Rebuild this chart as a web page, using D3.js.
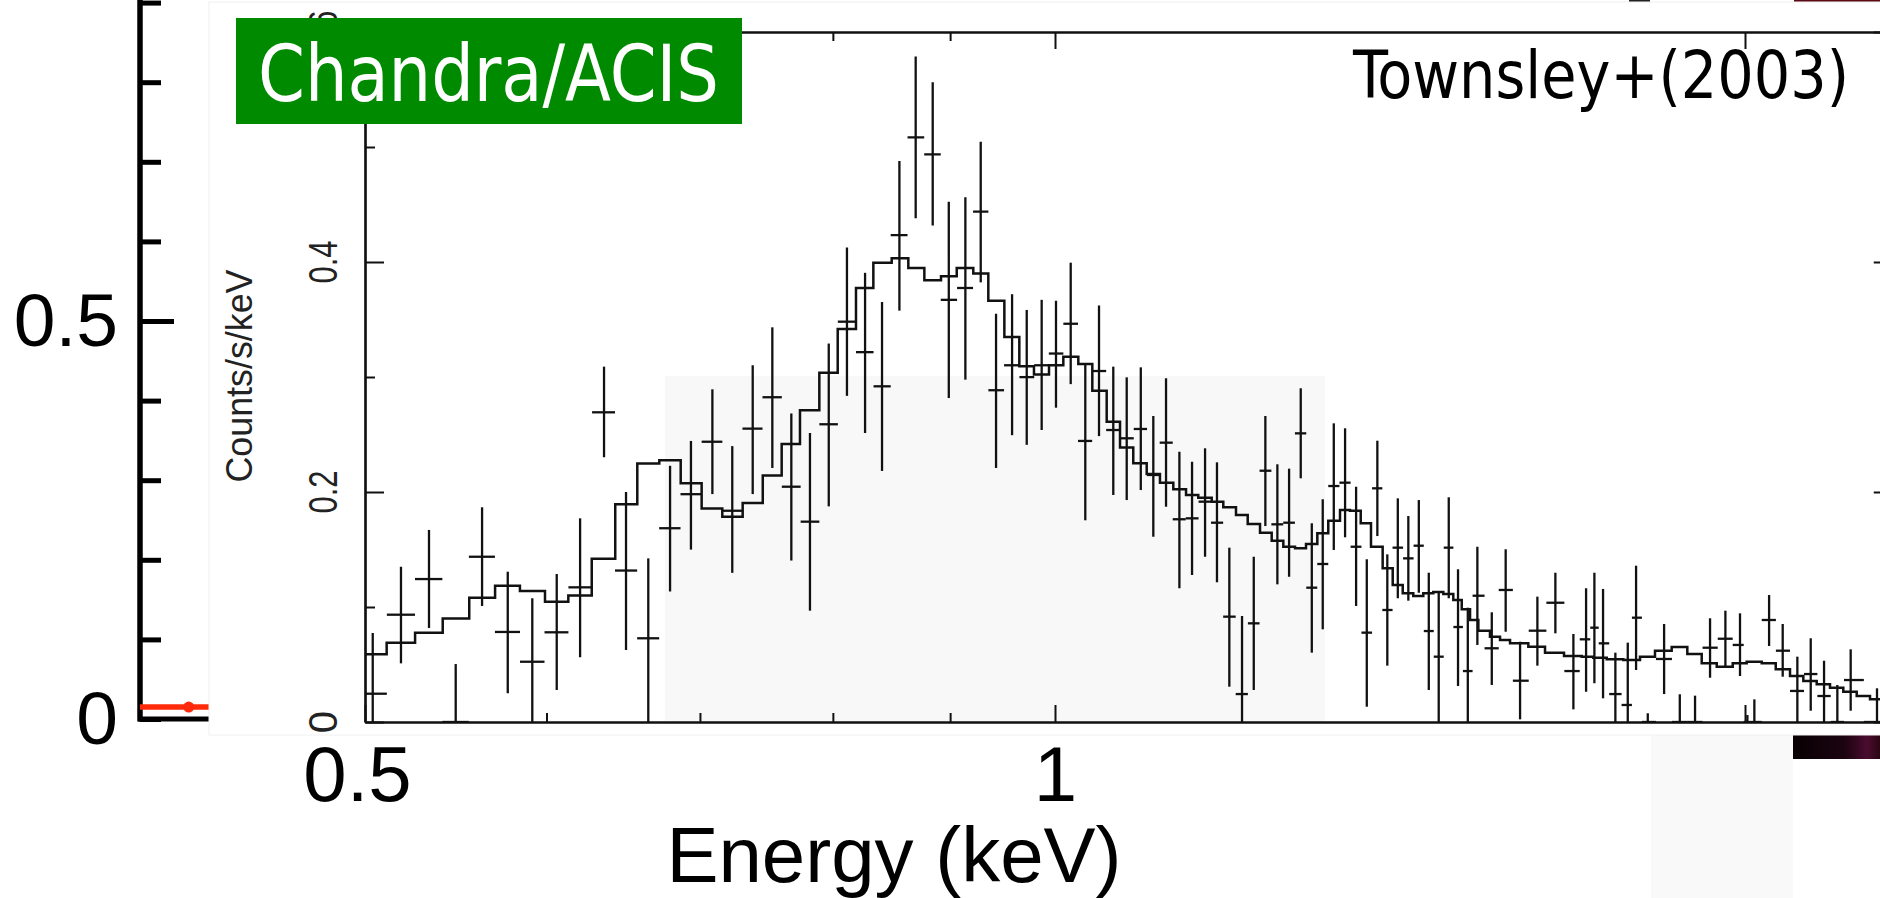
<!DOCTYPE html>
<html>
<head>
<meta charset="utf-8">
<script src="https://cdn.jsdelivr.net/npm/d3@7"></script>
<style>
  body { margin: 0; background: #fff; overflow: hidden; }
  .thin text { font-family: "Liberation Sans Narrow", "Liberation Sans", Arial, sans-serif; }
</style>
</head>
<body>
<div id="chart"></div>
<script>

// ---- data (Chandra/ACIS, Townsley+ 2003) ----
// bin centre energy (keV), rate and error bar ends (counts/s/keV)
var energy = [0.5039,0.5184,0.5332,0.5477,0.5624,0.5771,0.5915,0.6062,0.6206,0.6357,
	0.6499,0.6646,0.6793,0.6937,0.7088,0.7231,0.7381,0.7528,0.7673,0.7818,
	0.7967,0.8114,0.8263,0.8405,0.8553,0.8694,0.8844,0.8988,0.9139,0.9281,
	0.9425,0.9578,0.972,0.9867,1.001,1.0159,1.0309,1.0452,1.0603,1.0747,
	1.09,1.1038,1.118,1.1331,1.1476,1.1627,1.1767,1.1914,1.2067,1.221,
	1.2353,1.2503,1.2651,1.28,1.2943,1.3086,1.3232,1.3383,1.3532,1.3678,
	1.3824,1.3963,1.4111,1.4261,1.4412,1.4557,1.4703,1.4852,1.4991,1.5139,
	1.5285,1.5508,1.5726,1.5955,1.6235,1.6531,1.6833,1.7049,1.7192,1.7342,
	1.7558,1.7778,1.7927,1.8139,1.8439,1.8732,1.9021,1.931,1.961,1.99,
	2.0048,2.0189,2.049,2.0772,2.108,2.1365,2.1653,2.1944,2.224,2.2836,
	2.305];

var rate = [0.0246,0.0933,0.1243,0,0.1437,0.0783,0.0524,0.078,0.1171,0.2693,
	0.1317,0.0728,0.1685,0.1981,0.2437,0.1837,0.2551,0.2824,0.2046,0.1742,
	0.2589,0.3481,0.3216,0.2919,0.4233,0.5083,0.4936,0.3671,0.3774,0.4438,
	0.2885,0.3102,0.2999,0.3102,0.3204,0.3463,0.2444,0.3052,0.2539,0.2467,
	0.2548,0.2148,0.2429,0.1763,0.1771,0.1916,0.1733,0.0916,0.0243,0.0858,
	0.2185,0.1719,0.1733,0.251,0.1168,0.1374,0.2052,0.2081,0.1524,0.0777,
	0.2032,0.0974,0.1516,0.1423,0.1533,0.0791,0.0568,0.1516,0.0826,0.0443,
	0.1098,0.0641,0.1148,0.0359,0.0794,0.1037,0.0443,0.0719,0.082,0.0684,
	0.0243,0.0148,0.0907,0,0.0548,0,0,0.0646,0.0724,0.067,
	0,0,0.0887,0.062,0.027,0.0417,0.0226,0,0.0365,0,
	0.0997];

var rateHigh = [0.0774,0.135,0.167,0.0504,0.1867,0.1307,0.1076,0.1287,0.1771,0.309,
	0.2,0.1423,0.2228,0.2444,0.2893,0.2399,0.3102,0.3432,0.2683,0.2513,
	0.3291,0.4127,0.3906,0.3652,0.4878,0.5786,0.5562,0.4525,0.4563,0.5046,
	0.355,0.372,0.3583,0.3671,0.3663,0.3994,0.3121,0.3622,0.309,0.2997,
	0.3084,0.2661,0.2989,0.235,0.2263,0.238,0.2258,0.1516,0.0922,0.1437,
	0.2661,0.2241,0.2203,0.2902,0.1728,0.1937,0.2597,0.2554,0.2046,0.1415,
	0.2446,0.1458,0.1945,0.1791,0.193,0.1298,0.1124,0.1954,0.1328,0.0994,
	0.1524,0.0954,0.1502,0.0698,0.109,0.1298,0.0765,0.1163,0.1298,0.1157,
	0.0603,0.069,0.1359,0.0076,0.0852,0.0241,0.0229,0.0902,0.0968,0.0945,
	0.0061,0.0197,0.1104,0.0852,0.0568,0.0728,0.0533,0.0322,0.0632,0.0293,
	0.13];

var rateLow = [-0.02,0.051,0.0817,-0.02,0.1009,0.025,-0.02,0.0278,0.0563,0.2302,
	0.0626,-0.02,0.1135,0.1499,0.1982,0.1297,0.1982,0.2209,0.1404,0.0968,
	0.1875,0.2836,0.2513,0.2183,0.3577,0.4381,0.4317,0.2817,0.2977,0.3823,
	0.2209,0.2494,0.241,0.2539,0.2733,0.2938,0.1754,0.2486,0.1974,0.193,
	0.2017,0.1611,0.1872,0.1163,0.1278,0.1437,0.1215,0.0307,-0.02,0.0278,
	0.1704,0.1197,0.1263,0.2119,0.0603,0.0806,0.1496,0.1606,0.1009,0.0133,
	0.1617,0.049,0.1076,0.1055,0.1124,0.0278,-0.02,0.1076,0.0313,-0.02,
	0.067,0.0322,0.0785,0.0023,0.049,0.0771,0.011,0.0263,0.0337,0.0206,
	-0.02,-0.02,0.0452,-0.02,0.0243,-0.02,-0.02,0.0385,0.0481,0.04,
	-0.02,-0.02,0.0661,0.0394,-0.02,0.0098,-0.02,-0.02,0.0098,-0.02,
	0.07];

// folded model, one value per bin starting at each left edge (keV)
var modelEdge = [0.5005,0.5110,0.5258,0.5406,0.5552,0.5698,0.5842,0.5991,0.6133,0.6279,
	0.6429,0.6573,0.6720,0.6866,0.7012,0.7159,0.7307,0.7456,0.7599,0.7740,
	0.7892,0.8039,0.8188,0.8332,0.8487,0.8630,0.8770,0.8918,0.9060,0.9212,
	0.9352,0.9504,0.9648,0.9791,0.9940,1.0084,1.0237,1.0382,1.0533,1.0675,
	1.0818,1.0965,1.1112,1.1262,1.1407,1.1548,1.1705,1.1842,1.1994,1.2136,
	1.2287,1.2432,1.2578,1.2727,1.2868,1.3015,1.3159,1.3315,1.3449,1.3595,
	1.3736,1.3898,1.4039,1.4181,1.4332,1.4477,1.4623,1.4771,1.4920,1.5047,
	1.5173,1.5300,1.5480,1.5637,1.5795,1.6088,1.6360,1.6675,1.6974,1.7173,
	1.7406,1.7699,1.7998,1.8271,1.8580,1.8874,1.9149,1.9440,1.9755,2.0034,
	2.0339,2.0627,2.0925,2.1207,2.1494,2.1783,2.2076,2.2375,2.2676,2.3136];

var modelRate = [0.059,0.069,0.0777,0.090,0.108,0.1185,0.114,0.1046,0.110,0.142,
	0.1894,0.2247,0.2277,0.2077,0.1856,0.1784,0.1905,0.2144,0.2418,0.271,
	0.3037,0.3417,0.3774,0.3994,0.4032,0.3948,0.3842,0.3877,0.3948,0.3899,
	0.3663,0.3348,0.3094,0.3022,0.3102,0.3177,0.3113,0.2881,0.2611,0.2388,
	0.225,0.2157,0.2081,0.2023,0.1974,0.1951,0.1916,0.1867,0.18,0.1722,
	0.1646,0.1577,0.1525,0.151,0.1548,0.1641,0.175,0.1843,0.1838,0.1728,
	0.1525,0.1336,0.1191,0.1119,0.1096,0.1119,0.113,0.1113,0.1061,0.098,
	0.0887,0.0794,0.0742,0.0713,0.0684,0.0655,0.0603,0.0574,0.0568,0.0559,
	0.0545,0.0539,0.0568,0.062,0.0652,0.0591,0.051,0.0481,0.051,0.0524,
	0.051,0.0458,0.04,0.0357,0.0328,0.0298,0.0263,0.0226,0.0197,0.0197];

// inset axis ticks
var xMajor = [0.5, 1, 2];
var xMinor = [0.6, 0.7, 0.8, 0.9];
var yMajor = [0, 0.2, 0.4, 0.6];
var yMinor = [0.1, 0.3, 0.5];
var yLabels = ["0", "0.2", "0.4", "0.6"];
var xBigLabels = [0.5, 1];

// slide axis behind the inset (left) and its red series
var bigTicks = [0, 0.1, 0.2, 0.3, 0.4, 0.5, 0.6, 0.7, 0.8, 0.9];
var bigLabels = [0, 0.5];
var redSeries = [{x: 0, y: 0.015}, {x: 0.028, y: 0.015}, {x: 0.05, y: 0.015}];

// ---- layout ----
var width = 1880;
var height = 898;
var plotLeft = 365, plotTop = 32, plotBottom = 722;
var xMax = 2.32;

var svg = d3.select("#chart")
	.append("svg")
	.attr("width", width)
	.attr("height", height);

// scales
var xScale = d3.scaleLog()
	.domain([0.5, xMax])
	.range([plotLeft, plotLeft + 690 * Math.log2(xMax / 0.5)]);
var yScale = d3.scaleLinear()
	.domain([0, 0.6])
	.range([plotBottom, plotTop]);
var plotRight = xScale(xMax);

var bigY = d3.scaleLinear().domain([0, 0.5]).range([719, 321]);
var bigX = d3.scaleLinear().domain([0, 1]).range([140, 1880]);

// ---- slide layer ----
var slide = svg.append("g");

slide.append("g")
	.attr("transform", "translate(140,0)")
	.call(d3.axisRight(bigY).tickValues(bigTicks).tickSize(21).tickFormat(""))
	.call(function(g){ g.select(".domain").remove(); })
	.selectAll("line").attr("stroke", "#000").attr("stroke-width", 5);

slide.append("g")
	.attr("transform", "translate(140,0)")
	.call(d3.axisRight(bigY).tickValues([0.5]).tickSize(34).tickFormat(""))
	.call(function(g){ g.select(".domain").remove(); })
	.selectAll("line").attr("stroke", "#000").attr("stroke-width", 5);

slide.append("line")
	.attr("x1", 140).attr("x2", 140)
	.attr("y1", 0).attr("y2", bigY(0) + 2.5)
	.attr("stroke", "#000").attr("stroke-width", 5.5);

slide.append("line")
	.attr("x1", 138).attr("x2", 400)
	.attr("y1", bigY(0)).attr("y2", bigY(0))
	.attr("stroke", "#000").attr("stroke-width", 5);

slide.append("g")
	.attr("transform", "translate(140,0)")
	.call(d3.axisLeft(bigY).tickValues(bigLabels).tickSize(0).tickPadding(22)
		.tickFormat(function(d){ return d === 0 ? "0" : "0.5"; }))
	.call(function(g){ g.select(".domain").remove(); })
	.selectAll("text")
		.attr("font-family", "'Liberation Sans', Arial, sans-serif")
		.attr("font-size", 75)
		.attr("fill", "#000");

slide.append("path")
	.datum(redSeries)
	.attr("fill", "none")
	.attr("stroke", "#ff2a0a")
	.attr("stroke-width", 5.5)
	.attr("d", d3.line().x(function(d){ return bigX(d.x); }).y(function(d){ return bigY(d.y); }));

slide.append("circle")
	.attr("cx", bigX(redSeries[1].x))
	.attr("cy", bigY(redSeries[1].y))
	.attr("r", 5.5)
	.attr("fill", "#ff2a0a");

// stray bits of the slide
slide.append("rect").attr("x", 1651).attr("y", 734).attr("width", 142).attr("height", 164).attr("fill", "#f9f9f9");
var grad = svg.append("defs").append("linearGradient").attr("id", "darkbar");
grad.append("stop").attr("offset", "0%").attr("stop-color", "#080002");
grad.append("stop").attr("offset", "60%").attr("stop-color", "#1c0410");
grad.append("stop").attr("offset", "85%").attr("stop-color", "#4a0c30");
grad.append("stop").attr("offset", "100%").attr("stop-color", "#2a0612");
slide.append("rect").attr("x", 1793).attr("y", 734).attr("width", 87).attr("height", 25).attr("fill", "url(#darkbar)");
slide.append("rect").attr("x", 1629).attr("y", 0).attr("width", 21).attr("height", 2).attr("fill", "#222");
slide.append("rect").attr("x", 1794).attr("y", 0).attr("width", 86).attr("height", 3).attr("fill", "#5a0a14");

// ---- inset spectrum ----
var inset = svg.append("g");

inset.append("rect")
	.attr("x", 209).attr("y", 2)
	.attr("width", width).attr("height", 733)
	.attr("fill", "#fff")
	.attr("stroke", "#f0f0f0")
	.attr("stroke-width", 1);

inset.append("rect")
	.attr("x", 665).attr("y", 376)
	.attr("width", 660).attr("height", plotBottom - 376)
	.attr("fill", "#f8f8f8");

svg.append("defs").append("clipPath").attr("id", "plotclip")
	.append("rect")
	.attr("x", plotLeft).attr("y", plotTop)
	.attr("width", plotRight - plotLeft).attr("height", plotBottom - plotTop);

// axes
function styleAxis(g) {
	g.select(".domain").attr("stroke", "#111").attr("stroke-width", 2.2);
	g.selectAll(".tick line").attr("stroke", "#111").attr("stroke-width", 2);
	g.selectAll(".tick text").remove();
}

inset.append("g").attr("transform", "translate(0," + plotBottom + ")")
	.call(d3.axisBottom(xScale).tickValues(xMajor).tickSizeInner(-17).tickSizeOuter(0))
	.call(styleAxis);
inset.append("g").attr("transform", "translate(0," + plotBottom + ")")
	.call(d3.axisBottom(xScale).tickValues(xMinor).tickSizeInner(-9).tickSizeOuter(0))
	.call(styleAxis);
inset.append("g").attr("transform", "translate(0," + plotTop + ")")
	.call(d3.axisTop(xScale).tickValues(xMajor).tickSizeInner(-17).tickSizeOuter(0))
	.call(styleAxis);
inset.append("g").attr("transform", "translate(0," + plotTop + ")")
	.call(d3.axisTop(xScale).tickValues(xMinor).tickSizeInner(-9).tickSizeOuter(0))
	.call(styleAxis);
inset.append("g").attr("transform", "translate(" + plotLeft + ",0)")
	.call(d3.axisLeft(yScale).tickValues(yMajor).tickSizeInner(-19).tickSizeOuter(0))
	.call(styleAxis);
inset.append("g").attr("transform", "translate(" + plotLeft + ",0)")
	.call(d3.axisLeft(yScale).tickValues(yMinor).tickSizeInner(-10).tickSizeOuter(0))
	.call(styleAxis);
inset.append("g").attr("transform", "translate(" + plotRight + ",0)")
	.call(d3.axisRight(yScale).tickValues(yMajor).tickSizeInner(-19).tickSizeOuter(0))
	.call(styleAxis);
inset.append("g").attr("transform", "translate(" + plotRight + ",0)")
	.call(d3.axisRight(yScale).tickValues(yMinor).tickSizeInner(-10).tickSizeOuter(0))
	.call(styleAxis);

// rotated y tick labels
var thin = inset.append("g").attr("class", "thin");
thin.selectAll("text.ylab")
	.data(yMajor)
	.enter()
	.append("text")
	.attr("class", "ylab")
	.attr("transform", function(d){ return "translate(337," + yScale(d) + ") rotate(-90)"; })
	.attr("text-anchor", "middle")
	.attr("font-size", 40)
	.attr("fill", "#222")
	.attr("textLength", function(d, i){ return yLabels[i].length > 1 ? 43 : null; })
	.attr("lengthAdjust", "spacingAndGlyphs")
	.text(function(d, i){ return yLabels[i]; });

thin.append("text")
	.attr("transform", "translate(252,376) rotate(-90)")
	.attr("text-anchor", "middle")
	.attr("font-size", 37)
	.attr("fill", "#222")
	.attr("textLength", 213)
	.attr("lengthAdjust", "spacingAndGlyphs")
	.text("Counts/s/keV");

// data crosses
var points = energy.map(function(e, i){
	var lo = i > 0 ? Math.sqrt(energy[i - 1] * e) : e * e / Math.sqrt(e * energy[1]);
	var hi = i < energy.length - 1 ? Math.sqrt(energy[i + 1] * e) : e * e / lo;
	return {e: e, lo: lo, hi: hi, v: rate[i], top: rateHigh[i], bot: rateLow[i]};
});

var dataG = inset.append("g").attr("clip-path", "url(#plotclip)");

dataG.selectAll("line.ev")
	.data(points)
	.enter()
	.append("line")
	.attr("class", "ev")
	.attr("x1", function(d){ return xScale(d.e); })
	.attr("x2", function(d){ return xScale(d.e); })
	.attr("y1", function(d){ return yScale(d.top); })
	.attr("y2", function(d){ return yScale(d.bot); })
	.attr("stroke", "#111")
	.attr("stroke-width", 2.3);

dataG.selectAll("line.eh")
	.data(points)
	.enter()
	.append("line")
	.attr("class", "eh")
	.attr("x1", function(d){ return xScale(d.lo); })
	.attr("x2", function(d){ return xScale(d.hi); })
	.attr("y1", function(d){ return yScale(d.v); })
	.attr("y2", function(d){ return yScale(d.v); })
	.attr("stroke", "#111")
	.attr("stroke-width", 2.3);

// model histogram
var model = modelEdge.map(function(e, i){ return {e: e, v: modelRate[i]}; });
dataG.append("path")
	.datum(model)
	.attr("fill", "none")
	.attr("stroke", "#111")
	.attr("stroke-width", 2.5)
	.attr("d", d3.line()
		.curve(d3.curveStepAfter)
		.x(function(d){ return xScale(d.e); })
		.y(function(d){ return yScale(d.v); }));

// ---- slide labels on top ----
svg.append("g")
	.attr("transform", "translate(0," + plotBottom + ")")
	.call(d3.axisBottom(xScale).tickValues(xBigLabels).tickSize(0).tickPadding(24)
		.tickFormat(function(d){ return d === 1 ? "1" : "0.5"; }))
	.call(function(g){ g.select(".domain").remove(); })
	.selectAll("text")
		.attr("font-family", "'Liberation Sans', Arial, sans-serif")
		.attr("font-size", 78)
		.attr("fill", "#000")
		.attr("dx", function(d){ return d === 1 ? 0 : -8; });

svg.append("text")
	.attr("x", 894).attr("y", 882)
	.attr("text-anchor", "middle")
	.attr("font-family", "'Liberation Sans', Arial, sans-serif")
	.attr("font-size", 78)
	.attr("fill", "#000")
	.text("Energy (keV)");

svg.append("rect")
	.attr("x", 236).attr("y", 18)
	.attr("width", 506).attr("height", 106)
	.attr("fill", "#008a00");

svg.append("text")
	.attr("x", 258).attr("y", 101)
	.attr("font-family", "'DejaVu Sans Condensed', 'DejaVu Sans', sans-serif")
	.attr("font-size", 78)
	.attr("fill", "#fff")
	.attr("textLength", 461)
	.attr("lengthAdjust", "spacingAndGlyphs")
	.text("Chandra/ACIS");

svg.append("text")
	.attr("x", 1353).attr("y", 98)
	.attr("font-family", "'DejaVu Sans Condensed', 'DejaVu Sans', sans-serif")
	.attr("font-size", 66)
	.attr("fill", "#000")
	.attr("textLength", 496)
	.attr("lengthAdjust", "spacingAndGlyphs")
	.text("Townsley+(2003)");

</script>
</body>
</html>
